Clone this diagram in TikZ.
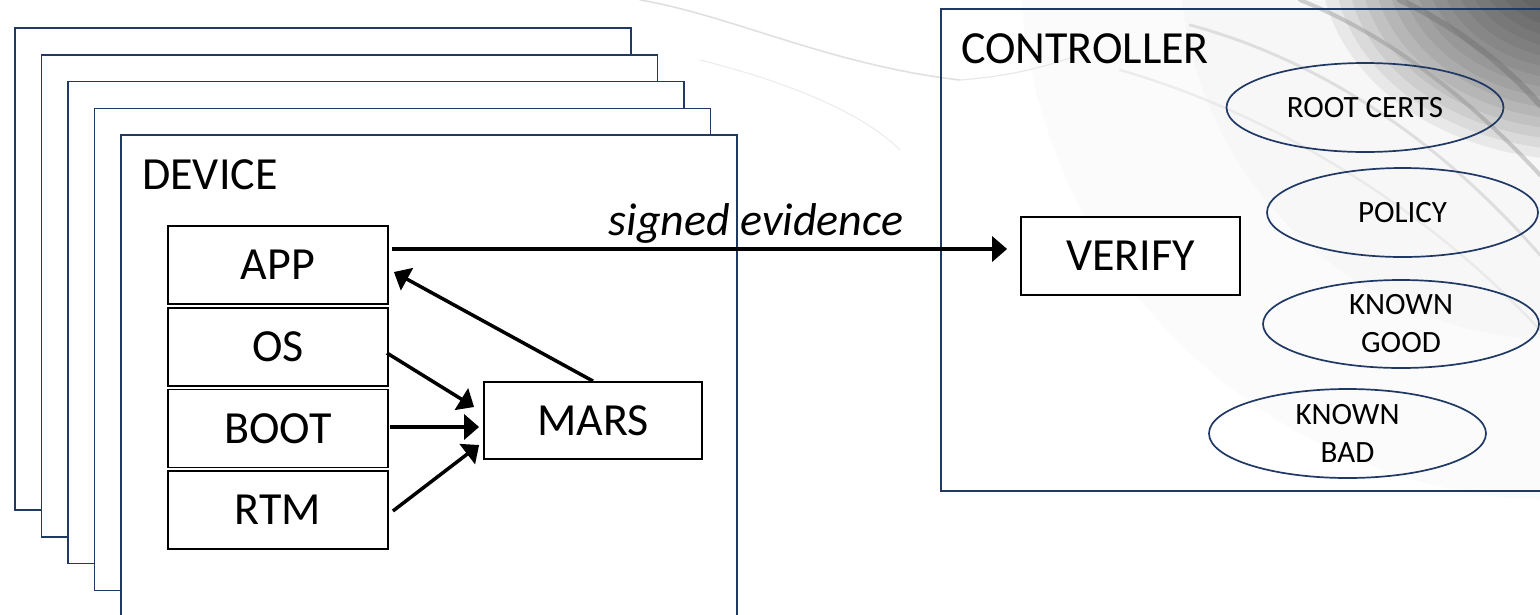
\documentclass[tikz,border=0pt]{standalone}
\usepackage{fontspec}
\setmainfont{Carlito}
\usetikzlibrary{arrows.meta,shapes.geometric,calc}
\definecolor{navy}{RGB}{31,56,100}
\newcommand\labelfont{\fontsize{46}{50}\selectfont}
\newcommand\storefont{\fontsize{31}{38}\selectfont}

\begin{document}
\begin{tikzpicture}[x=1pt,y=-1pt,
  stackbox/.style={rectangle, draw=navy, line width=1.6pt, fill=white,
    anchor=north west, minimum width=616pt, minimum height=482pt, inner sep=0pt},
  layer/.style={rectangle, draw=black, line width=1.8pt, fill=white,
    minimum width=220pt, minimum height=78pt, inner sep=0pt, font=\labelfont},
  store/.style={ellipse, draw=navy, line width=1.7pt, minimum width=277pt,
    minimum height=89pt, inner sep=0pt, align=center, font=\storefont},
  title/.style={anchor=base west, inner sep=0pt, font=\labelfont},
  arr/.style={line width=3.5pt, -{Triangle[length=15pt,width=25pt]}}
]
\useasboundingbox (0,0) rectangle (1540,614);
\clip (0,0) rectangle (1540,614);

% soft grey marble, darkest in the upper right corner (stepped fade)
\foreach \r in {380,540}
  \fill[black, opacity=0.015] (1560,-40) circle (\r);
\foreach \r in {10,20,...,200}
  \fill[black, opacity=0.06] (1580,-40) ellipse ({1.3*\r} and \r);
\begin{scope}[line cap=round]
  \draw[black!12, line width=1.6pt] (640,0) .. controls (730,15) and (830,65) .. (960,80);
  \draw[black!9, line width=1.2pt] (960,80) .. controls (1010,76) and (1040,68) .. (1070,58);
  \draw[black!7, line width=1.2pt] (700,60) .. controls (780,80) and (860,110) .. (900,150);
  \draw[black!60, line width=6pt, opacity=0.35] (1400,0) .. controls (1460,28) and (1510,70) .. (1540,105);
  \draw[black!50, line width=4pt, opacity=0.35] (1300,0) .. controls (1400,40) and (1480,110) .. (1540,175);
  \draw[black!35, line width=3pt, opacity=0.3] (1190,25) .. controls (1320,60) and (1440,140) .. (1540,255);
  \draw[black!20, line width=2.5pt, opacity=0.3] (1120,70) .. controls (1260,110) and (1420,200) .. (1540,330);
\end{scope}

% stack of devices, back to front
\node[stackbox] (dev1) at (14,27.4) {};
\node[stackbox] (dev2) at (40.6,54.1) {};
\node[stackbox] (dev3) at (67.2,80.8) {};
\node[stackbox] (dev4) at (93.8,107.5) {};
\node[stackbox] (dev5) at (120.4,134.2) {};
\node[title] (devlbl) at (142,189) {DEVICE};

% measured layers
\node[layer] (app)  at (278,265)   {APP};
\node[layer] (os)   at (278,347)   {OS};
\node[layer] (boot) at (278,428.5) {BOOT};
\node[layer] (rtm)  at (278,510)   {RTM};
\node[layer, minimum width=218pt, minimum height=77pt] (mars) at (593,420.5) {MARS};

% controller
\node[stackbox, fill=none, minimum width=640pt] (ctrl) at (940,8) {};
\node[title] (ctrllbl) at (961,63) {CONTROLLER};
\node[layer, minimum width=219pt] (verify) at (1130.5,256) {VERIFY};
\node[store] (certs)  at (1365,107.5) {ROOT CERTS};
\node[store, minimum width=271pt] (policy) at (1402.5,212.5) {POLICY};
\node[store, minimum width=276pt, minimum height=88pt] (good) at (1401,324) {KNOWN\\GOOD};
\node[store] (bad) at (1347.5,433.5) {KNOWN\\BAD};

% measurements into MARS, MARS extends APP
\draw[arr] ($(os.east)+(-2,6)$) -- ($(mars.west)+(-9,-13.5)$);
\draw[arr] ($(boot.east)+(1,-1.5)$) -- ($(mars.west)+(-4,6.5)$);
\draw[arr] ($(rtm.east)+(4,1)$) -- ($(mars.west)+(-4,24.5)$);
\draw[arr] (mars.north) -- ($(app.east)+(5,7)$);

% evidence to the controller
\draw[arr] ($(app.east)+(3,-16)$) -- ($(verify.west)+(-13,-7)$)
  node[pos=0.592, anchor=base, yshift=14pt, inner sep=0pt, font=\labelfont\itshape] (ev) {signed evidence};
\end{tikzpicture}
\end{document}
